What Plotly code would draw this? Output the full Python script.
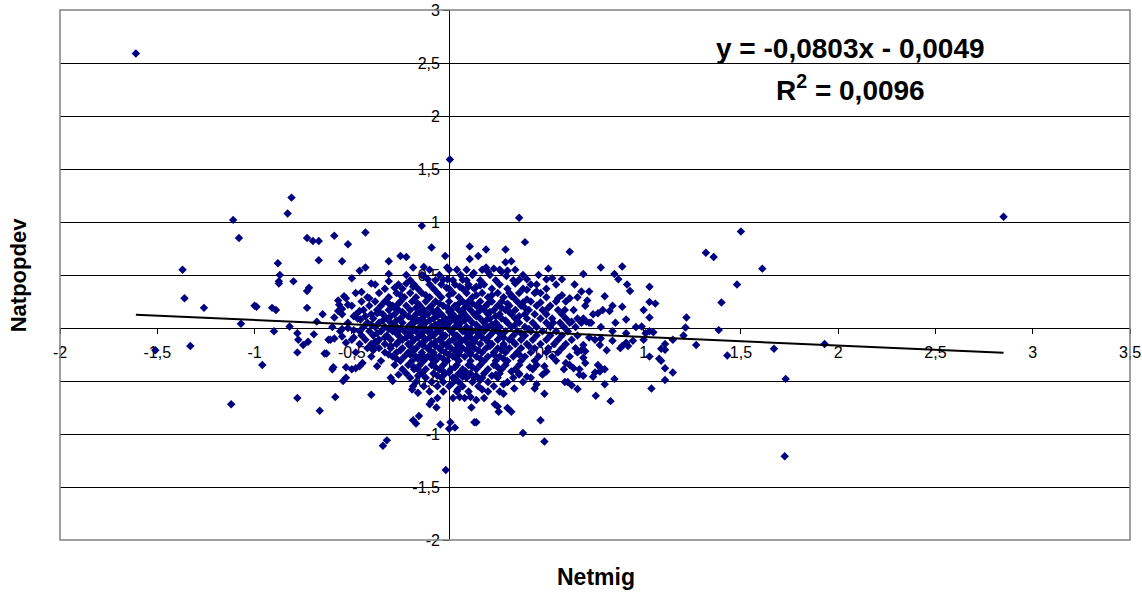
import plotly.graph_objects as go

# ---- data (Netmig, Natpopdev) ----
sparse_points = [
    (-1.61, 2.59), (0.004, 1.59), (2.85, 1.05),
    # upper left
    (-0.81, 1.23), (-0.83, 1.08), (-1.11, 1.02), (-1.08, 0.85), (-1.37, 0.55), (-1.36, 0.28),
    (-1.26, 0.19), (-1.07, 0.04), (-1.00, 0.21), (-0.99, 0.20), (-0.91, 0.19), (-0.89, 0.17),
    (-0.88, 0.61), (-0.87, 0.50), (-0.875, 0.44), (-0.875, 0.42), (-0.80, 0.44), (-0.73, 0.85),
    (-0.70, 0.82), (-0.67, 0.82), (-0.67, 0.64), (-0.59, 0.87), (-0.52, 0.79), (-0.43, 0.90),
    (-0.55, 0.63), (-0.46, 0.54), (-0.43, 0.57), (-0.50, 0.47), (-0.40, 0.42), (-0.38, 0.41),
    (-0.72, 0.38), (-0.73, 0.35), (-0.73, 0.19), (-0.65, 0.13), (-0.68, 0.06), (-0.82, 0.015),
    (-0.48, 0.33), (-0.45, 0.34), (-0.41, 0.28), (-0.54, 0.30), (-0.53, 0.28), (-0.57, 0.26),
    (-0.565, 0.22), (-0.55, 0.18), (-0.57, 0.16), (-0.52, 0.22), (-0.46, 0.16), (-0.48, 0.125),
    (-0.59, 0.10), (-0.49, 0.11), (-0.43, 0.11), (-0.37, 0.14), (-0.455, 0.08),
    # lower left
    (-1.33, -0.17), (-1.51, -0.21), (-1.12, -0.72), (-0.96, -0.35), (-0.90, -0.03), (-0.78, -0.23),
    (-0.78, -0.05), (-0.775, -0.11), (-0.75, -0.16), (-0.725, -0.13), (-0.695, -0.06), (-0.78, -0.66),
    (-0.665, -0.78), (-0.64, -0.24), (-0.585, -0.65), (-0.60, -0.39), (-0.595, -0.37), (-0.62, -0.11),
    (-0.59, -0.10), (-0.55, -0.08), (-0.53, -0.14), (-0.49, -0.09), (-0.545, -0.50), (-0.53, -0.47),
    (-0.53, -0.37), (-0.50, -0.39), (-0.48, -0.38), (-0.46, -0.36), (-0.445, -0.33), (-0.40, -0.63),
    (-0.39, -0.17), (-0.37, -0.13), (-0.37, -0.36), (-0.55, -0.01), (-0.52, 0.0), (-0.49, -0.02),
    (-0.46, -0.03), (-0.63, -0.24), (-0.61, -0.11),
    # lower centre
    (-0.017, -1.34), (-0.34, -1.11), (-0.32, -1.06), (-0.185, -0.87), (-0.155, -0.83), (-0.17, -0.90),
    (-0.045, -0.91), (0.007, -0.89), (0.0, -0.95), (0.03, -0.94), (0.13, -0.89), (0.14, -0.89),
    (0.38, -0.99), (0.49, -1.07), (0.47, -0.87), (-0.10, -0.72), (-0.09, -0.69), (-0.065, -0.75),
    (-0.16, -0.61), (-0.185, -0.55), (-0.19, -0.58), (-0.29, -0.50), (-0.30, -0.47), (-0.26, -0.44),
    (0.055, -0.65), (0.045, -0.58), (0.115, -0.75), (0.11, -0.65), (0.14, -0.68), (0.17, -0.58),
    (0.235, -0.72), (0.255, -0.79), (0.25, -0.74), (0.28, -0.62), (0.30, -0.755), (0.32, -0.79),
    (0.335, -0.57), (0.28, -0.53), (0.44, -0.57), (0.49, -0.62), (0.45, -0.53), (0.38, -0.51),
    (0.40, -0.46), (0.595, -0.51), (0.63, -0.54), (0.085, -0.41), (0.07, -0.46), (0.13, -0.47),
    (0.16, -0.49), (-0.03, -0.41), (0.0, -0.42), (0.017, -0.52), (0.03, -0.47), (0.24, -0.44),
    (0.32, -0.41), (0.36, -0.44), (0.64, -0.38), (0.62, -0.35), (0.67, -0.39), (0.48, -0.44),
    (0.49, -0.36), (0.50, -0.41), (0.415, -0.37), (-0.135, -0.30), (-0.16, -0.39),
    # upper centre
    (0.36, 1.04), (-0.14, 0.965), (0.39, 0.81), (0.62, 0.72), (-0.09, 0.76), (0.106, 0.77),
    (0.19, 0.74), (0.29, 0.74), (0.106, 0.65), (0.15, 0.68), (-0.02, 0.68), (-0.25, 0.68),
    (-0.22, 0.67), (-0.31, 0.63), (0.29, 0.62), (0.32, 0.63), (-0.185, 0.57), (-0.13, 0.575),
    (-0.01, 0.57), (0.04, 0.55), (0.127, 0.52), (0.19, 0.57), (0.23, 0.56), (0.20, 0.53),
    (0.27, 0.53), (0.30, 0.54), (0.295, 0.49), (0.51, 0.56), (0.53, 0.47), (0.50, 0.46),
    (0.58, 0.46), (0.40, 0.46), (-0.31, 0.51), (-0.31, 0.44), (-0.008, 0.46), (-0.03, 0.455),
    (-0.013, 0.38), (-0.13, 0.49), (-0.11, 0.46), (-0.28, 0.38), (-0.22, 0.42), (-0.185, 0.39),
    (0.07, 0.455), (0.055, 0.39), (0.10, 0.39), (0.14, 0.39), (0.16, 0.40), (0.34, 0.42),
    (0.36, 0.455), (0.45, 0.41), (0.40, 0.36), (0.45, 0.345), (0.56, 0.28), (0.58, 0.31),
    (0.62, 0.28), (0.645, 0.41), (0.31, 0.33), (0.32, 0.30), (0.47, 0.33), (0.47, 0.24),
    (0.40, 0.27), (0.38, 0.24), (0.51, 0.19), (0.595, 0.17), (0.535, 0.05), (0.63, 0.06),
    # right
    (1.50, 0.91), (1.32, 0.71), (1.36, 0.67), (1.61, 0.56), (1.48, 0.41), (1.40, 0.24),
    (0.78, 0.57), (0.89, 0.58), (0.69, 0.51), (0.85, 0.51), (0.87, 0.46), (0.915, 0.41),
    (0.93, 0.35), (1.03, 0.39), (0.68, 0.345), (0.72, 0.345), (0.71, 0.26), (0.80, 0.30),
    (0.84, 0.21), (0.89, 0.20), (1.03, 0.245), (1.06, 0.23), (1.00, 0.17), (1.03, 0.10),
    (0.765, 0.14), (0.79, 0.17), (0.825, 0.16), (0.91, 0.08), (0.855, 0.05), (1.22, 0.10),
    (1.215, 0.005), (0.96, 0.01), (0.99, 0.015), (0.69, 0.09), (0.705, 0.06), (0.72, 0.05),
    (0.68, 0.05), (1.205, -0.07), (1.386, -0.02), (1.27, -0.16), (1.43, -0.26), (1.67, -0.195),
    (1.93, -0.15), (1.73, -0.48), (1.725, -1.21), (1.03, -0.27), (1.08, -0.29), (1.09, -0.31),
    (1.09, -0.195), (1.11, -0.15), (1.11, -0.205), (1.11, -0.38), (1.15, -0.42), (1.11, -0.49),
    (1.04, -0.57), (1.15, -0.11), (0.83, -0.69), (0.754, -0.64), (0.80, -0.53), (0.85, -0.48),
    (0.69, -0.45), (0.74, -0.46), (0.75, -0.42), (0.765, -0.35), (0.78, -0.38), (0.80, -0.39),
    (0.775, -0.41), (0.69, -0.28), (0.70, -0.33), (0.70, -0.22), (0.81, -0.21), (0.84, -0.12),
    (0.88, -0.19), (0.91, -0.14), (0.945, -0.12), (0.75, -0.11), (0.775, -0.16), (0.78, -0.10),
    (0.69, -0.16), (0.72, -0.09), (1.03, -0.03), (1.05, -0.04), (0.66, -0.575), (0.61, -0.51),
    (0.66, -0.23), (0.68, -0.21), (0.60, -0.33), (0.59, -0.39), (0.67, -0.44), (0.91, -0.05),
    (0.89, -0.17), (0.92, -0.17), (1.0, -0.11), (1.01, -0.05),
]

# dense core, read row by row (Natpopdev level, Netmig values)
core_rows = [
    (0.55, [-0.10, 0.00, 0.09, 0.17, 0.26, 0.34]),
    (0.50, [-0.22, -0.14, -0.05, 0.06, 0.12, 0.21, 0.38, 0.46]),
    (0.45, [-0.20, -0.07, 0.02, 0.09, 0.16, 0.24, 0.33]),
    (0.41, [-0.26, -0.18, -0.10, -0.04, 0.03, 0.10, 0.18, 0.26, 0.42, 0.55]),
    (0.37, [-0.33, -0.24, -0.16, -0.08, 0.00, 0.07, 0.13, 0.22, 0.30, 0.38, 0.50]),
    (0.33, [-0.36, -0.27, -0.20, -0.14, -0.06, 0.02, 0.09, 0.17, 0.25, 0.36, 0.44]),
    (0.31, [-0.25, -0.12, 0.00, 0.14, 0.22]),
    (0.29, [-0.42, -0.31, -0.23, -0.17, -0.10, -0.04, 0.05, 0.12, 0.20, 0.28, 0.33, 0.50, 0.66]),
    (0.25, [-0.45, -0.38, -0.33, -0.25, -0.19, -0.12, -0.07, 0.00, 0.07, 0.10, 0.16, 0.22, 0.27, 0.35, 0.42, 0.55, 0.60]),
    (0.23, [-0.31, -0.26, -0.16, -0.05, 0.05, 0.12, 0.20, 0.30]),
    (0.21, [-0.50, -0.41, -0.35, -0.29, -0.22, -0.15, -0.09, -0.03, 0.03, 0.09, 0.14, 0.19, 0.25, 0.31, 0.37, 0.45, 0.52, 0.70]),
    (0.19, [-0.28, -0.17, -0.10, -0.01, 0.08, 0.16, 0.27, 0.39]),
    (0.17, [-0.44, -0.37, -0.31, -0.26, -0.20, -0.13, -0.06, 0.01, 0.05, 0.11, 0.18, 0.23, 0.29, 0.34, 0.41, 0.48, 0.56, 0.64]),
    (0.15, [-0.36, -0.24, -0.15, -0.08, 0.00, 0.07, 0.15, 0.21, 0.31]),
    (0.13, [-0.55, -0.40, -0.34, -0.28, -0.23, -0.17, -0.11, -0.04, 0.02, 0.08, 0.13, 0.20, 0.26, 0.32, 0.39, 0.44, 0.50, 0.58, 0.74]),
    (0.11, [-0.30, -0.21, -0.13, -0.06, 0.01, 0.06, 0.14, 0.24, 0.36]),
    (0.09, [-0.47, -0.39, -0.32, -0.25, -0.19, -0.14, -0.08, -0.02, 0.04, 0.10, 0.16, 0.21, 0.27, 0.34, 0.40, 0.47, 0.53, 0.60, 0.66]),
    (0.07, [-0.34, -0.27, -0.16, -0.10, -0.03, 0.03, 0.08, 0.19, 0.29]),
    (0.05, [-0.52, -0.42, -0.36, -0.30, -0.24, -0.18, -0.12, -0.05, 0.00, 0.06, 0.12, 0.18, 0.24, 0.30, 0.36, 0.43, 0.50, 0.57, 0.62, 0.73]),
    (0.03, [-0.40, -0.29, -0.20, -0.14, -0.07, -0.01, 0.05, 0.14, 0.22, 0.34]),
    (0.01, [-0.60, -0.44, -0.38, -0.33, -0.27, -0.21, -0.15, -0.09, -0.03, 0.03, 0.09, 0.15, 0.20, 0.26, 0.32, 0.39, 0.45, 0.52, 0.59, 0.65, 0.78]),
    (-0.01, [-0.31, -0.25, -0.18, -0.12, -0.06, 0.00, 0.06, 0.11, 0.17, 0.24, 0.41]),
    (-0.03, [-0.56, -0.41, -0.35, -0.29, -0.23, -0.17, -0.11, -0.06, 0.01, 0.07, 0.12, 0.18, 0.23, 0.29, 0.35, 0.42, 0.48, 0.55, 0.61, 0.84]),
    (-0.05, [-0.37, -0.27, -0.20, -0.14, -0.09, -0.04, 0.02, 0.09, 0.15, 0.26, 0.37]),
    (-0.07, [-0.45, -0.39, -0.32, -0.26, -0.20, -0.14, -0.08, -0.02, 0.04, 0.10, 0.15, 0.21, 0.27, 0.33, 0.39, 0.45, 0.52, 0.58, 0.66]),
    (-0.09, [-0.33, -0.22, -0.16, -0.10, -0.03, 0.05, 0.11, 0.17, 0.28]),
    (-0.11, [-0.50, -0.43, -0.36, -0.30, -0.24, -0.18, -0.12, -0.05, 0.02, 0.08, 0.13, 0.19, 0.25, 0.31, 0.37, 0.43, 0.50, 0.56, 0.63]),
    (-0.13, [-0.38, -0.26, -0.19, -0.13, -0.07, 0.00, 0.06, 0.13, 0.20, 0.33]),
    (-0.15, [-0.46, -0.40, -0.33, -0.27, -0.21, -0.15, -0.09, -0.03, 0.04, 0.10, 0.16, 0.22, 0.28, 0.34, 0.40, 0.47, 0.54, 0.60]),
    (-0.17, [-0.30, -0.20, -0.13, -0.07, -0.01, 0.05, 0.11, 0.21, 0.28, 0.41]),
    (-0.19, [-0.42, -0.36, -0.30, -0.24, -0.17, -0.11, -0.05, 0.01, 0.07, 0.13, 0.19, 0.25, 0.31, 0.37, 0.44, 0.51, 0.58, 0.65]),
    (-0.21, [-0.39, -0.25, -0.18, -0.10, -0.04, 0.03, 0.09, 0.15, 0.27]),
    (-0.23, [-0.48, -0.33, -0.27, -0.21, -0.14, -0.08, -0.02, 0.05, 0.11, 0.17, 0.23, 0.29, 0.35, 0.42, 0.50, 0.56]),
    (-0.25, [-0.31, -0.20, -0.14, -0.08, 0.00, 0.05, 0.11, 0.23, 0.36]),
    (-0.27, [-0.40, -0.29, -0.23, -0.17, -0.11, -0.05, 0.02, 0.08, 0.14, 0.20, 0.26, 0.33, 0.39, 0.46, 0.53, 0.62]),
    (-0.29, [-0.27, -0.16, -0.09, -0.03, 0.04, 0.16, 0.28]),
    (-0.31, [-0.35, -0.25, -0.19, -0.13, -0.07, -0.01, 0.05, 0.11, 0.18, 0.24, 0.30, 0.37, 0.44, 0.55]),
    (-0.35, [-0.28, -0.21, -0.15, -0.09, -0.03, 0.04, 0.10, 0.16, 0.23, 0.29, 0.36, 0.45]),
    (-0.37, [-0.18, -0.07, 0.03, 0.12, 0.25]),
    (-0.39, [-0.24, -0.18, -0.12, -0.05, 0.01, 0.07, 0.14, 0.20, 0.27, 0.34, 0.43]),
    (-0.43, [-0.22, -0.14, -0.08, -0.02, 0.05, 0.11, 0.18, 0.26, 0.36]),
    (-0.45, [-0.16, -0.06, 0.07, 0.14, 0.22]),
    (-0.47, [-0.20, -0.12, -0.04, 0.02, 0.09, 0.17, 0.25, 0.33, 0.42]),
    (-0.51, [-0.17, -0.09, -0.03, 0.05, 0.12, 0.20, 0.30]),
    (-0.55, [-0.13, -0.06, 0.00, 0.07, 0.15, 0.23]),
    (-0.60, [-0.10, -0.03, 0.04, 0.10, 0.20, 0.26]),
    (-0.66, [-0.06, 0.02, 0.08, 0.18]),
]

netmig = [p[0] for p in sparse_points] + [x for _, xs in core_rows for x in xs]
natpopdev = [p[1] for p in sparse_points] + [y for y, xs in core_rows for _ in xs]

# trend line from the chart's equation
slope = -0.0803
intercept = -0.0049
r_squared = 0.0096

x_ticks = [-2, -1.5, -1, -0.5, 0, 0.5, 1, 1.5, 2, 2.5, 3, 3.5]
y_ticks = [-2, -1.5, -1, -0.5, 0, 0.5, 1, 1.5, 2, 2.5, 3]


def lab(v):
    return f"{v:g}".replace(".", ",")


x_range = [-2, 3.5]
y_range = [-2, 3]

FONT = "Liberation Sans, Arial, sans-serif"

trend_x = [min(netmig), max(netmig)]
trend_y = [slope * x + intercept for x in trend_x]

fig = go.Figure()
fig.add_trace(go.Scatter(
    x=netmig, y=natpopdev, mode="markers",
    marker=dict(symbol="diamond", size=6.5, color="#000080", line=dict(width=0)),
    hoverinfo="x+y",
))
fig.add_trace(go.Scatter(
    x=trend_x, y=trend_y, mode="lines",
    line=dict(color="black", width=2), hoverinfo="skip",
))

fig.update_layout(
    width=1142, height=592,
    margin=dict(l=60, r=12, t=10, b=52),
    paper_bgcolor="white", plot_bgcolor="white",
    showlegend=False,
    font=dict(family=FONT, color="black", size=16),
)
fig.update_xaxes(
    range=x_range, anchor="free",
    position=(0 - y_range[0]) / (y_range[1] - y_range[0]),
    showline=True, linecolor="black", linewidth=1,
    ticks="outside", ticklen=5, tickcolor="black", tickwidth=1,
    tickvals=x_ticks, ticktext=[lab(v) for v in x_ticks],
    tickfont=dict(family=FONT, size=16, color="black"),
    ticklabelstandoff=5,
    showgrid=False, zeroline=False, layer="below traces", automargin=False,
)
fig.update_yaxes(
    range=y_range, anchor="free",
    position=(0 - x_range[0]) / (x_range[1] - x_range[0]),
    showline=True, linecolor="black", linewidth=1,
    ticks="outside", ticklen=6, tickcolor="black", tickwidth=1,
    tickvals=y_ticks, ticktext=[lab(v) for v in y_ticks],
    tickfont=dict(family=FONT, size=16, color="black"),
    showgrid=True, gridcolor="black", gridwidth=1,
    zeroline=False, layer="below traces", automargin=False,
)
fig.add_shape(type="rect", xref="paper", yref="paper", x0=0, x1=1, y0=0, y1=1,
              line=dict(color="#808080", width=1.5), layer="above")

fig.add_annotation(
    xref="paper", yref="paper", x=0.739, y=0.928, xanchor="center", yanchor="middle",
    showarrow=False,
    text=f"<b>y = {lab(slope)}x - {lab(abs(intercept))}</b>",
    font=dict(family=FONT, size=28, color="black"),
)
fig.add_annotation(
    xref="paper", yref="paper", x=0.739, y=0.853, xanchor="center", yanchor="middle",
    showarrow=False,
    text=f"<b>R<sup>2</sup> = {lab(r_squared)}</b>",
    font=dict(family=FONT, size=28, color="black"),
)
fig.add_annotation(
    xref="paper", yref="paper", x=0.501, y=-0.07, xanchor="center", yanchor="middle",
    showarrow=False,
    text="<b>Netmig</b>", font=dict(family=FONT, size=23, color="black"),
)
fig.add_annotation(
    xref="paper", yref="paper", x=-0.039, y=0.5, xanchor="center", yanchor="middle",
    showarrow=False, textangle=-90,
    text="<b>Natpopdev</b>", font=dict(family=FONT, size=22, color="black"),
)

fig.write_html("out.html", config={"displayModeBar": False},
               post_script="document.body.style.margin='0px';")
